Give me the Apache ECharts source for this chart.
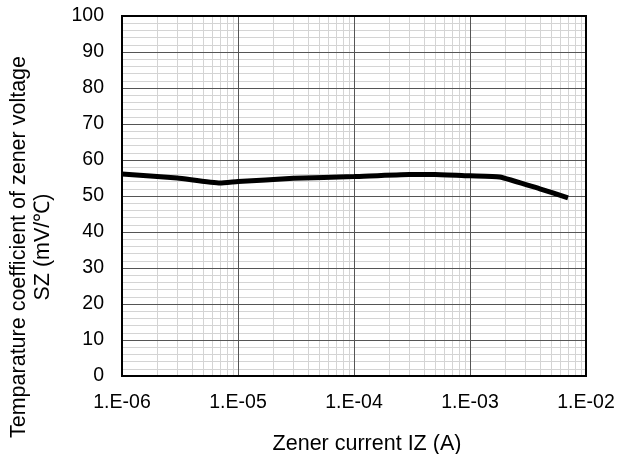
<!DOCTYPE html>
<html>
<head>
<meta charset="utf-8">
<script src="https://cdn.jsdelivr.net/npm/echarts@6/dist/echarts.min.js"></script>
<style>html,body{margin:0;padding:0;background:#fff}#c{width:621px;height:454px}</style>
</head>
<body>
<div id="c"></div>
<script>
var currentA = [1e-6, 3e-6, 7e-6, 1e-5, 3e-5, 1e-4, 3e-4, 5e-4, 1e-3, 1.8e-3, 4e-3, 7e-3];
var szValues = [56.1, 55.0, 53.6, 54.0, 54.9, 55.4, 56.0, 56.0, 55.6, 55.3, 52.0, 49.5];
var decades = [1e-6, 1e-5, 1e-4, 1e-3];
var minorFactors = [2, 3, 4, 5, 6, 7, 8, 9];
var yRange = [0, 100];
var xTickLabels = {'-6': '1.E-06', '-5': '1.E-05', '-4': '1.E-04', '-3': '1.E-03', '-2': '1.E-02'};

var minorX = [];
decades.forEach(function (d) { minorFactors.forEach(function (f) { minorX.push(d * f); }); });

var chart = echarts.init(document.getElementById('c'));
var font = 'Liberation Sans, Arial, sans-serif';
var lineData = currentA.map(function (x, i) { return [x, szValues[i]]; });
chart.setOption({
  animation: false,
  grid: { left: 122, right: 35, top: 16, bottom: 78, outerBoundsMode: 'none', containLabel: false,
    show: true, z: 5, borderColor: '#000', borderWidth: 2, backgroundColor: 'transparent' },
  xAxis: {
    type: 'log', logBase: 10, min: 1e-6, max: 1e-2, z: 2,
    name: 'Zener current IZ (A)', nameLocation: 'middle', nameGap: 57,
    nameTextStyle: { fontFamily: font, fontSize: 21.5, color: '#000', padding: [0, 0, 0, 26] },
    axisLine: { show: false }, axisTick: { show: false },
    axisLabel: { fontFamily: font, fontSize: 19.5, color: '#000', margin: 17,
      formatter: function (v) { var e = Math.round(Math.log10(v)); return xTickLabels[String(e)] || ''; } },
    splitLine: { show: true, lineStyle: { color: '#555', width: 1 } },
    minorTick: { show: false }, minorSplitLine: { show: false }
  },
  yAxis: {
    type: 'value', min: 0, max: 100, interval: 10, z: 1,
    name: 'Temparature coefficient of zener voltage\nSZ (mV/℃)', nameLocation: 'middle', nameGap: 67,
    nameTextStyle: { fontFamily: font, fontSize: 21.5, color: '#000', lineHeight: 24, padding: [0, 102, 0, 0] },
    axisLine: { show: false }, axisTick: { show: false },
    axisLabel: { fontFamily: font, fontSize: 19.5, color: '#000', margin: 18 },
    splitLine: { show: true, lineStyle: { color: '#555', width: 1 } },
    minorTick: { show: false, splitNumber: 5 },
    minorSplitLine: { show: true, lineStyle: { color: '#d4d4d4', width: 1 } }
  },
  series: [
    {
      type: 'custom', z: 0, silent: true, clip: true,
      data: minorX.map(function (x) { return [x]; }),
      encode: { x: 0 },
      renderItem: function (params, api) {
        var x = api.value(0);
        var p0 = api.coord([x, yRange[0]]);
        var p1 = api.coord([x, yRange[1]]);
        return { type: 'line', shape: { x1: Math.round(p0[0]) + 0.5, y1: p0[1], x2: Math.round(p1[0]) + 0.5, y2: p1[1] },
          style: { stroke: '#d4d4d4', lineWidth: 1 } };
      }
    },
    {
      type: 'line', z: 10, showSymbol: false, symbol: 'none', smooth: 0.15,
      lineStyle: { color: '#000', width: 5 },
      data: lineData
    }
  ]
});
</script>
</body>
</html>
